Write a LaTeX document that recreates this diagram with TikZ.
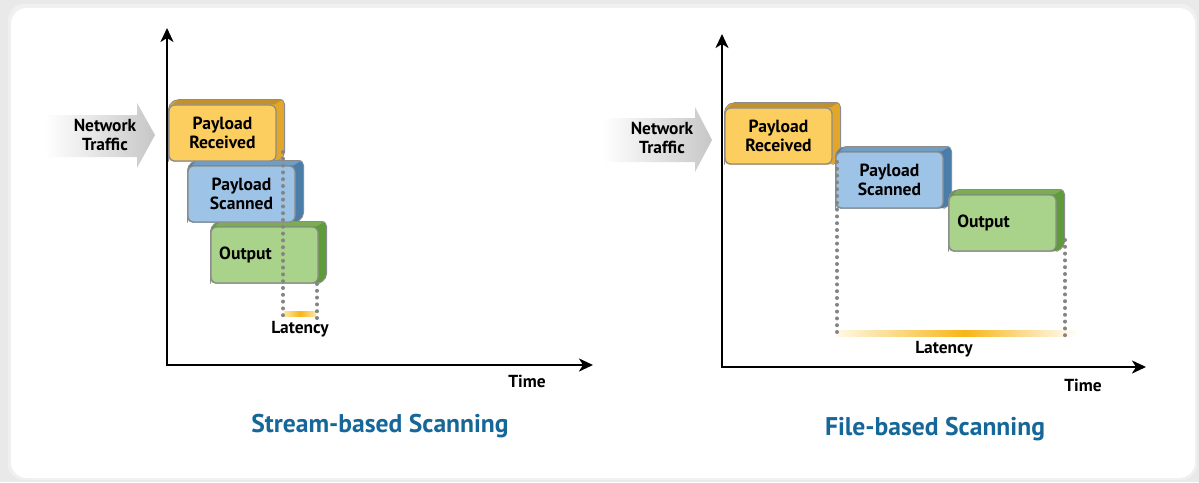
\documentclass[tikz,border=0pt]{standalone}
\usepackage{fontspec}
\setmainfont{PT Sans}
\usetikzlibrary{arrows.meta}
\pgfdeclarelayer{panel}\pgfdeclarelayer{bg}
\pgfsetlayers{panel,bg,main}
\definecolor{pagegray}{HTML}{E9E9E9}
\definecolor{boxline}{HTML}{8C8C8C}
\definecolor{ofront}{HTML}{FCCD5F}
\definecolor{oside}{HTML}{E2A62A}
\definecolor{otop}{HTML}{C3902E}
\definecolor{bfront}{HTML}{9DC3E6}
\definecolor{bside}{HTML}{4A7EA8}
\definecolor{btop}{HTML}{6E9DC6}
\definecolor{gfront}{HTML}{A9D38A}
\definecolor{gside}{HTML}{5F9A3B}
\definecolor{gtop}{HTML}{7BAE52}
\definecolor{titleblue}{HTML}{15679A}
\definecolor{dotgray}{HTML}{858585}
\definecolor{gold}{HTML}{F7B617}
\definecolor{palegold}{HTML}{FDE7A6}
\newcommand\extrude[3]{%
  \begin{pgfonlayer}{bg}
    \fill[#2, rounded corners=2.5pt] (#1.south west) -- (#1.north west)
      -- ([shift={(4pt,2.5pt)}]#1.north west) -- ([shift={(4pt,2.5pt)}]#1.north east)
      -- ([shift={(4pt,2.5pt)}]#1.south east) -- (#1.south east) -- cycle;
    \fill[#3] ([xshift=2pt]#1.north west) -- ([shift={(5pt,2.5pt)}]#1.north west)
      -- ([shift={(3pt,2.5pt)}]#1.north east) -- ([xshift=-1pt]#1.north east) -- cycle;
    \draw[boxline, line width=0.4pt, rounded corners=2.5pt] (#1.south west) -- (#1.north west)
      -- ([shift={(4pt,2.5pt)}]#1.north west) -- ([shift={(4pt,2.5pt)}]#1.north east)
      -- ([shift={(4pt,2.5pt)}]#1.south east) -- (#1.south east);
  \end{pgfonlayer}}
\begin{document}
\begin{tikzpicture}[x=0.5pt,y=-0.5pt,
  box/.style={draw=boxline, line width=0.6pt, rounded corners=3pt,
    minimum width=53.5pt, minimum height=28pt, inner sep=0pt, align=center,
    font=\bfseries\fontsize{8.8}{9.6}\selectfont},
  lab/.style={font=\bfseries\fontsize{8.7}{9.4}\selectfont, align=center, inner sep=0pt},
  title/.style={font=\bfseries\fontsize{12.8}{14}\selectfont, text=titleblue, inner sep=0pt},
  axis/.style={line width=1.1pt, {Stealth[length=7pt,width=6.5pt,inset=2pt]}-{Stealth[length=7pt,width=6.5pt,inset=2pt]}},
  guide/.style={dotgray, line width=2pt, line cap=round, dash pattern=on 0pt off 3.4pt},
  netarrow/.style={left color=white, right color=black!22, draw=none}]
\begin{pgfonlayer}{panel}
  \fill[pagegray] (0,0) rectangle (1199,482);
  \fill[black!6, rounded corners=8pt] (8,4) rectangle (1197,480);
  \fill[white, rounded corners=8pt] (11,8) rectangle (1195,478);
\end{pgfonlayer}
\useasboundingbox (0,0) rectangle (1199,482);

% ---------- left panel ----------
\coordinate (lo) at (167,365);
\coordinate (ly) at (167,28);
\coordinate (lx) at (593,365);
\draw[axis] (ly) -- (lo) -- (lx);
\shade[netarrow] (45,115) -- (137,115) -- (137,103) -- (155,135) -- (137,168) -- (137,157) -- (45,157) -- cycle;
\node[lab] (lnet) at (105,135) {Network\\Traffic};

\node[box, fill=ofront] (lpr) at (222.5,133) {Payload\\Received};
\extrude{lpr}{oside}{otop}
\node[box, fill=bfront] (lps) at (241.5,194) {Payload\\Scanned};
\extrude{lps}{bside}{btop}
\node[box, fill=gfront] (lout) at (264.5,255) {Output\hspace*{19pt}};
\extrude{lout}{gside}{gtop}

\coordinate (ld1a) at (283,152);
\coordinate (ld1b) at (283,318);
\coordinate (ld2a) at (317,284);
\coordinate (ld2b) at (317,318);
\shade[left color=palegold, right color=palegold, middle color=gold] (284,311) rectangle (316,316);
\draw[guide] (ld1a) -- (ld1b);
\draw[guide] (ld2a) -- (ld2b);
\node[lab] (llat) at (300,329) {Latency};
\node[lab] (ltime) at (527,381) {Time};
\node[title] (ltitle) at (380,426) {Stream-based Scanning};

% ---------- right panel ----------
\coordinate (ro) at (722,367);
\coordinate (ry) at (722,34);
\coordinate (rx) at (1146,367);
\draw[axis] (ry) -- (ro) -- (rx);
\shade[netarrow] (603,118) -- (695,118) -- (695,107) -- (712,140) -- (695,172) -- (695,162) -- (603,162) -- cycle;
\node[lab] (rnet) at (662,138) {Network\\Traffic};

\node[box, fill=ofront] (rpr) at (778.5,136) {Payload\\Received};
\extrude{rpr}{oside}{otop}
\node[box, fill=bfront] (rps) at (889.5,180) {Payload\\Scanned};
\extrude{rps}{bside}{btop}
\node[box, fill=gfront] (rout) at (1002.5,223) {Output\hspace*{19pt}};
\extrude{rout}{gside}{gtop}

\coordinate (rd1a) at (837,162);
\coordinate (rd1b) at (837,337);
\coordinate (rd2a) at (1065,240);
\coordinate (rd2b) at (1065,337);
\shade[left color=palegold!30, right color=gold] (837,330) rectangle (965.5,336);
\shade[left color=gold, right color=white] (965,330) rectangle (1078,336);
\draw[guide] (rd1a) -- (rd1b);
\draw[guide] (rd2a) -- (rd2b);
\node[lab] (rlat) at (944,349) {Latency};
\node[lab] (rtime) at (1083,385) {Time};
\node[title] (rtitle) at (935,429) {File-based Scanning};
\end{tikzpicture}
\end{document}
